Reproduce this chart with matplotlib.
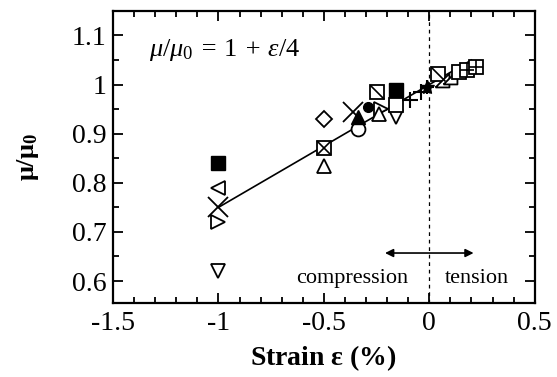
import matplotlib
matplotlib.use("Agg")
import matplotlib.pyplot as plt
from matplotlib.ticker import MultipleLocator, FuncFormatter

plt.rcParams['font.family'] = ['Liberation Serif', 'DejaVu Serif']
plt.rcParams['mathtext.fontset'] = 'custom'
plt.rcParams['mathtext.rm'] = 'Liberation Serif'
plt.rcParams['mathtext.it'] = 'Liberation Serif:italic'
plt.rcParams['mathtext.bf'] = 'Liberation Serif:bold'
plt.rcParams['axes.unicode_minus'] = False

# data (strain %, mu/mu0)
filled_sq_x, filled_sq_y = [-1.0, -0.16], [0.84, 0.99]
left_tri_x, left_tri_y = [-1.0], [0.79]
cross_x, cross_y = [-1.0, -0.36], [0.75, 0.945]
right_tri_x, right_tri_y = [-1.0, -0.23], [0.72, 0.95]
down_tri_x, down_tri_y = [-1.0, -0.16], [0.62, 0.935]
diamond_x, diamond_y = [-0.5], [0.93]
xsq_x, xsq_y = [-0.5], [0.87]
up_tri_x, up_tri_y = [-0.5, -0.24], [0.835, 0.94]
circle_x, circle_y = [-0.34], [0.91]
filled_tri_x, filled_tri_y = [-0.34], [0.935]
diag_sq_x, diag_sq_y = [-0.25, 0.04], [0.985, 1.022]
open_sq_x, open_sq_y = [-0.16, 0.14], [0.958, 1.025]
plus_x, plus_y = [-0.09, -0.04], [0.968, 0.985]
star_x, star_y = [-0.01], [0.995]
plus_sq_x, plus_sq_y = [0.18, 0.22], [1.03, 1.035]
corner_tri_x, corner_tri_y = [0.06, 0.10], [1.01, 1.015]
filled_circ_x, filled_circ_y = [-0.29], [0.955]

fit_x = [-1.0, 0.2]
fit_y = [0.75, 1.05]

x_ticks = [-1.5, -1, -0.5, 0, 0.5]
y_ticks = [0.6, 0.7, 0.8, 0.9, 1.0, 1.1]

fig = plt.figure(figsize=(5.57, 3.77), dpi=100)
ax = fig.add_axes([0.203, 0.196, 0.757, 0.775])

ax.plot(fit_x, fit_y, color='black', lw=1.2, zorder=2)
ax.axvline(0, color='black', lw=0.9, ls=(0, (3, 3)), zorder=1)

ms = 10
open_kw = dict(ls='none', mfc='white', mec='black', mew=1.3, ms=ms, zorder=3)
diag = [(-1, 1), (1, -1)]
corner = [(-1, -1), (1, -1), (1, 1), (-1, -1)]

ax.plot(filled_sq_x, filled_sq_y, 's', color='black', ms=ms, ls='none', zorder=3)
ax.plot(left_tri_x, left_tri_y, '<', **open_kw)
ax.plot(right_tri_x, right_tri_y, '>', **open_kw)
ax.plot(down_tri_x, down_tri_y, 'v', **open_kw)
ax.plot(diamond_x, diamond_y, 'D', ls='none', mfc='white', mec='black', mew=1.3, ms=8, zorder=3)
ax.plot(xsq_x, xsq_y, 's', **open_kw)
ax.plot(xsq_x, xsq_y, 'x', color='black', mew=1.2, ms=ms, ls='none', zorder=4)
ax.plot(up_tri_x, up_tri_y, '^', **open_kw)
ax.plot(circle_x, circle_y, 'o', **open_kw)
ax.plot(filled_tri_x, filled_tri_y, '^', color='black', ms=ms, ls='none', zorder=4)
ax.plot(diag_sq_x, diag_sq_y, 's', **open_kw)
ax.plot(diag_sq_x, diag_sq_y, marker=diag, color='black', mew=1.2, ms=ms, ls='none', zorder=4)
ax.plot(corner_tri_x, corner_tri_y, marker=corner, **open_kw)
ax.plot(open_sq_x, open_sq_y, 's', **open_kw)
ax.plot(plus_sq_x, plus_sq_y, 's', **open_kw)
ax.plot(plus_sq_x, plus_sq_y, '+', color='black', mew=1.2, ms=ms, ls='none', zorder=4)
ax.plot(filled_circ_x, filled_circ_y, 'o', color='black', ms=7, ls='none', zorder=4)
ax.plot(plus_x, plus_y, '+', color='black', mew=1.5, ms=ms + 2, ls='none', zorder=4)
ax.plot(star_x, star_y, '*', color='black', ms=ms, ls='none', zorder=4)
ax.plot(star_x, star_y, '+', color='black', mew=1.5, ms=ms, ls='none', zorder=4)
ax.plot(cross_x, cross_y, 'x', color='black', mew=1.3, ms=ms + 4, ls='none', zorder=4)

ax.set_xlim(-1.5, 0.5)
ax.set_ylim(0.555, 1.15)
ax.set_xticks(x_ticks)
ax.set_yticks(y_ticks)
ax.xaxis.set_minor_locator(MultipleLocator(0.1))
ax.yaxis.set_minor_locator(MultipleLocator(0.05))
fmt = FuncFormatter(lambda v, p: '%g' % round(v, 3))
ax.xaxis.set_major_formatter(fmt)
ax.yaxis.set_major_formatter(fmt)
ax.tick_params(which='both', direction='in', top=True, right=True, labelsize=20, width=1.3)
ax.tick_params(which='major', length=7)
ax.tick_params(which='minor', length=4)
ax.tick_params(axis='x', which='major', pad=6)
ax.tick_params(axis='y', which='major', pad=5)
for s in ax.spines.values():
    s.set_linewidth(1.6)

ax.text(0.085, 0.865, r'$\mathit{\mu/\mu_0}$ = $\mathit{1}$ + $\mathit{\varepsilon/4}$',
        transform=ax.transAxes, fontsize=19, fontstyle='italic', va='center', ha='left')

ax.annotate('', xy=(-0.21, 0.657), xytext=(0.21, 0.657),
            arrowprops=dict(arrowstyle='<|-|>', color='black', lw=1.2,
                            mutation_scale=12, shrinkA=0, shrinkB=0))
ax.text(-0.1, 0.605, 'compression', fontsize=16, ha='right', va='center')
ax.text(0.075, 0.605, 'tension', fontsize=16, ha='left', va='center')

ax.set_xlabel(r'Strain $\mathbf{\varepsilon}$ (%)', fontsize=20, fontweight='bold', labelpad=5)
ax.set_ylabel(r'$\mathbf{\mu/\mu_0}$', fontsize=19, fontweight='bold', labelpad=22)

fig.savefig('out.png', dpi=100)
